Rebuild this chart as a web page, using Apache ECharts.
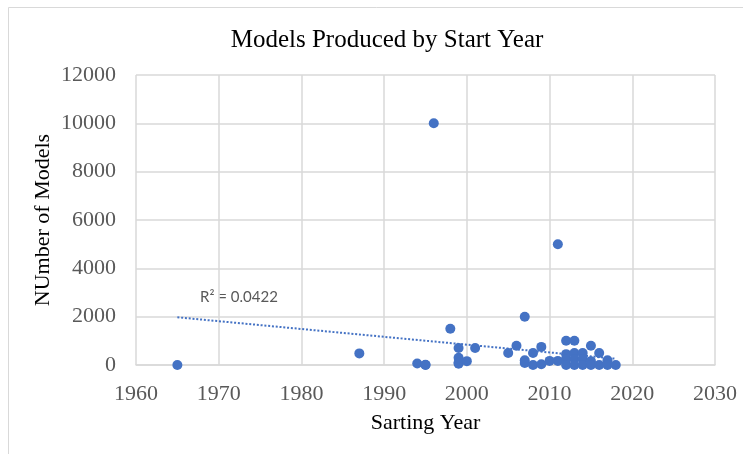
<!DOCTYPE html>
<html>
<head>
<meta charset="utf-8">
<script src="https://cdn.jsdelivr.net/npm/echarts@6/dist/echarts.min.js"></script>
<style>
  html, body { margin: 0; padding: 0; background: #fff; }
  #chart { width: 743px; height: 454px; }
</style>
</head>
<body>
<div id="chart"></div>
<script>
// Start year of each model line and how many models it produced
const startYears = [
  1965, 1987, 1994, 1995, 1995, 1996, 1998, 1999, 1999, 1999, 1999, 2000, 2001,
  2005, 2006, 2007, 2007, 2007, 2008, 2008, 2009, 2009, 2010, 2011, 2011,
  2012, 2012, 2012, 2012, 2013, 2013, 2013, 2013, 2014, 2014, 2014,
  2015, 2015, 2015, 2016, 2016, 2017, 2017, 2018
];
const modelCounts = [
  0, 480, 60, 0, 10, 10000, 1500, 700, 300, 100, 50, 160, 700,
  500, 800, 2000, 200, 80, 500, 0, 750, 30, 170, 5000, 170,
  1000, 450, 250, 0, 1000, 500, 250, 0, 500, 250, 0,
  800, 160, 0, 500, 0, 200, 0, 0
];

// Linear trendline end points and its fit statistic
const trendYears = [1965, 2018];
const trendValues = [1975, 260];
const trendLabel = 'R\u00B2 = 0.0422';

// Axis ticks
const xTicks = { min: 1960, max: 2030, step: 10 };
const yTicks = { min: 0, max: 12000, step: 2000 };

const points = startYears.map((y, i) => [y, modelCounts[i]]);
const trend = trendYears.map((y, i) => [y, trendValues[i]]);

const serif = '"Liberation Serif", "Times New Roman", serif';
const blue = '#4472c4';
const gridGray = '#d9d9d9';
const plain = v => String(v);

const chart = echarts.init(document.getElementById('chart'), null, { renderer: 'canvas' });
chart.setOption({
  animation: false,
  backgroundColor: '#fff',
  title: {
    text: 'Models Produced by Start Year',
    left: 382,
    textAlign: 'center',
    top: 23,
    textStyle: { fontFamily: serif, fontSize: 25, fontWeight: 'normal', color: '#000' }
  },
  grid: { left: 136, right: 28, top: 75, bottom: 89, containLabel: false },
  xAxis: {
    type: 'value',
    min: xTicks.min, max: xTicks.max, interval: xTicks.step,
    name: 'Sarting Year',
    nameLocation: 'middle',
    nameGap: 47,
    nameMoveOverlap: false,
    nameTextStyle: { fontFamily: serif, fontSize: 22, color: '#000' },
    axisLine: { show: true, lineStyle: { color: gridGray, width: 1.5 } },
    axisTick: { show: false },
    axisLabel: { fontFamily: serif, fontSize: 22, color: '#595959', margin: 18, formatter: plain },
    splitLine: { show: true, lineStyle: { color: gridGray, width: 1.5 } }
  },
  yAxis: {
    type: 'value',
    min: yTicks.min, max: yTicks.max, interval: yTicks.step,
    name: 'NUmber of Models',
    nameLocation: 'middle',
    nameGap: 82,
    nameMoveOverlap: false,
    nameRotate: 90,
    nameTextStyle: { fontFamily: serif, fontSize: 22, color: '#000' },
    axisLine: { show: false },
    axisTick: { show: false },
    axisLabel: { fontFamily: serif, fontSize: 22, color: '#595959', margin: 20, formatter: plain },
    splitLine: { show: true, lineStyle: { color: gridGray, width: 1.5 } }
  },
  graphic: [
    {
      type: 'rect',
      silent: true,
      shape: { x: 8.5, y: 7.5, width: 760, height: 460 },
      style: { fill: 'none', stroke: gridGray, lineWidth: 1 }
    },
    {
      type: 'text',
      left: 200,
      top: 290,
      style: { text: trendLabel, font: '15px Lato, "Open Sans", sans-serif', fill: '#595959' }
    }
  ],
  series: [
    {
      type: 'line',
      data: trend,
      symbol: 'none',
      z: 1,
      lineStyle: { color: blue, width: 2, type: [2, 1.8], cap: 'butt' }
    },
    {
      type: 'scatter',
      data: points,
      symbol: 'circle',
      symbolSize: 10,
      z: 2,
      itemStyle: { color: blue, opacity: 1 }
    }
  ]
});
</script>
</body>
</html>
